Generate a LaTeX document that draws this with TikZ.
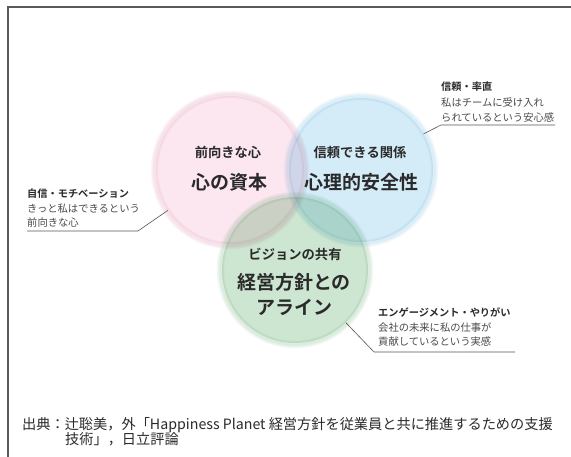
\documentclass[tikz,border=0pt]{standalone}
\usepackage{fontspec}
\setmainfont{Noto Sans CJK JP}[BoldFont={Noto Sans CJK JP Bold}]
\definecolor{ink}{HTML}{2A2A2A}
\definecolor{bodygray}{HTML}{4A4A4A}
\definecolor{linegray}{HTML}{555555}
\definecolor{framegray}{HTML}{5A5A5A}
\definecolor{pinkfill}{HTML}{FCE7F0}
\definecolor{pinkedge}{HTML}{EFB9CC}
\definecolor{bluefill}{HTML}{D4ECF8}
\definecolor{blueedge}{HTML}{A9D6EE}
\definecolor{greenfill}{HTML}{CDE6D1}
\definecolor{greenedge}{HTML}{A9D2B1}
\begin{document}
\begin{tikzpicture}[x=1pt,y=-1pt,
  conn/.style={draw=linegray, line width=0.6pt},
  venn/.style={circle, inner sep=0pt, minimum size=#1, blend mode=multiply},
  bigtxt/.style={font=\bfseries\fontsize{19}{19}\selectfont, text=ink, inner sep=0pt},
  midtxt/.style={font=\bfseries\fontsize{13.3}{13}\selectfont, text=ink, inner sep=0pt},
  ahead/.style={font=\bfseries\fontsize{10.2}{10}\selectfont, text=ink, anchor=base west, inner sep=0pt},
  abody/.style={font=\fontsize{10.3}{10}\selectfont, text=bodygray, anchor=base west, inner sep=0pt},
  foot/.style={font=\fontsize{14.2}{14}\selectfont, text=ink, anchor=base west, inner sep=0pt}]
\useasboundingbox (0,0) rectangle (571,457);
\fill[white] (0,0) rectangle (571,457);
% frame
\draw[framegray, line width=1.1pt] (8,457) -- (8,7) -- (571,7);
% glow rings
\foreach \cx/\cy/\col/\r in {230/170/pinkedge/75.5, 361/170/blueedge/73.5, 295/270/greenedge/74.5} {
  \foreach \w in {1,...,6}
    \draw[\col, line width=\w*1.3pt, opacity=0.08] (\cx,\cy) circle (\r pt);
}
% circles
\node[venn=148pt, fill=pinkfill] (pink) at (230,170) {};
\node[venn=144pt, fill=bluefill] (blue) at (361,170) {};
\node[venn=146pt, fill=greenfill] (green) at (295,270) {};
% circle texts
\node[midtxt] (p1) at (228,152) {前向きな心};
\node[bigtxt] (p2) at (229,182) {心の資本};
\node[midtxt] (b1) at (360,152) {信頼できる関係};
\node[bigtxt] (b2) at (361,182) {心理的安全性};
\node[midtxt] (g1) at (295,254) {ビジョンの共有};
\node[bigtxt] (g2) at (294,282) {経営方針との};
\node[bigtxt] (g3) at (294,307) {アライン};
% left annotation
\node[ahead] (l1) at (27,198) {自信・モチベーション};
\node[abody] (l2) at (27,212.5) {きっと私はできるという};
\node[abody] (l3) at (27,227) {前向きな心};
\coordinate (lu1) at (27,231);
\coordinate (lu2) at (138,231);
\draw[conn] (lu1) -- (lu2) -- (pink.213);
% top-right annotation
\node[ahead] (r1) at (441,90.5) {信頼・率直};
\node[abody] (r2) at (441,106.5) {私はチームに受け入れ};
\node[abody] (r3) at (441,122) {られているという安心感};
\coordinate (ru1) at (555,125);
\coordinate (ru2) at (441,125);
\draw[conn] (ru1) -- (ru2) -- (blue.30);
% bottom-right annotation
\node[ahead] (e1) at (378,317) {エンゲージメント・やりがい};
\node[abody] (e2) at (378,331.5) {会社の未来に私の仕事が};
\node[abody] (e3) at (378,346) {貢献しているという実感};
\coordinate (eu1) at (515,352);
\coordinate (eu2) at (374,352);
\draw[conn] (eu1) -- (eu2) -- (green.-46);
% footer
\node[foot] (f1) at (22,429) {出典：辻聡美，外「Happiness Planet 経営方針を従業員と共に推進するための支援};
\node[foot] (f2) at (65,445) {技術」，日立評論};
\end{tikzpicture}
\end{document}
